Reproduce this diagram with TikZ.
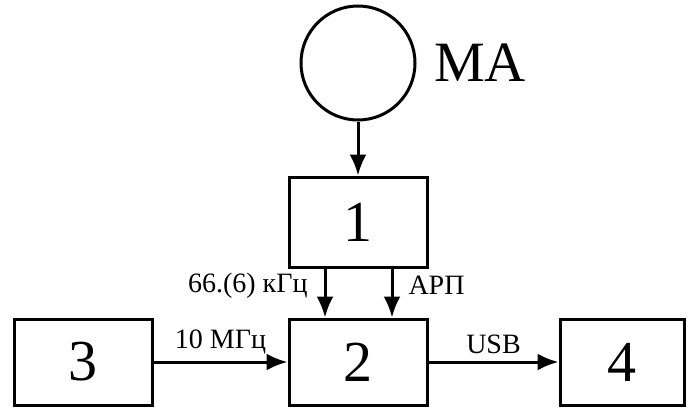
\documentclass[tikz,border=0pt]{standalone}
\usepackage{fontspec}
\setmainfont{Liberation Serif}
\usepackage{tikz}
\usetikzlibrary{arrows.meta,positioning}

\begin{document}
\begin{tikzpicture}[
      x=1pt, y=-1pt,
      blk/.style={rectangle, draw=black, line width=3pt, inner sep=0pt,
                  minimum width=138pt, minimum height=86pt,
                  font=\fontsize{58}{60}\selectfont},
      ant/.style={circle, draw=black, line width=3pt, inner sep=0pt,
                  minimum size=114pt},
      lbl/.style={font=\fontsize{28}{30}\selectfont, inner sep=0pt},
      arr/.style={-{Latex[length=21pt, width=17pt]}, line width=3pt}
    ]
    \useasboundingbox (0,0) rectangle (688,407);
    \node[ant] (ma) at (358,63) {};
    \node[anchor=west, inner sep=0pt, font=\fontsize{57}{60}\selectfont]
      (matext) at (434,63) {МА};
    \node[blk, minimum height=90pt] (b1) at (358,222) {1};
    \node[blk] (b2) at (358,362) {2};
    \node[blk] (b3) at (83,362) {3};
    \node[blk, minimum width=124pt] (b4) at (622,362) {4};
    \draw[arr] (ma) -- (b1);
    \draw[arr] ([xshift=-33pt]b1.south) -- ([xshift=-33pt]b2.north)
      node[lbl, pos=0.35, left=16pt] (fref) {66.(6) кГц};
    \draw[arr] ([xshift=34pt]b1.south) -- ([xshift=34pt]b2.north)
      node[lbl, pos=0.35, right=15pt] (apch) {АРП};
    \draw[arr] (b3) -- (b2)
      node[lbl, midway, above=7pt] (clk) {10 МГц};
    \draw[arr] (b2) -- (b4)
      node[lbl, midway, above=7pt] (usb) {USB};
  \end{tikzpicture}
\end{document}
